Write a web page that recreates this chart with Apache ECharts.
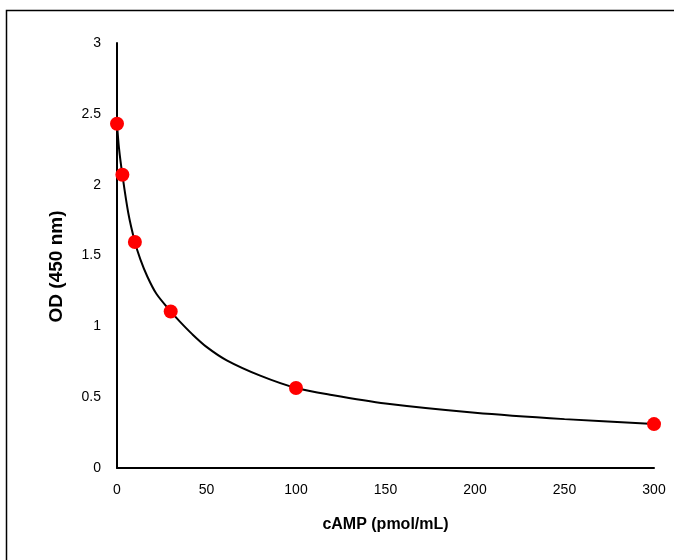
<!DOCTYPE html>
<html>
<head>
<meta charset="utf-8">
<script src="https://cdn.jsdelivr.net/npm/echarts@6/dist/echarts.min.js"></script>
<style>html,body{margin:0;padding:0;background:#fff}#c{width:674px;height:560px}</style>
</head>
<body>
<div id="c"></div>
<script>
// measured standards
const camp = [0, 3, 10, 30, 100, 300];
const od = [2.43, 2.07, 1.595, 1.105, 0.565, 0.31];
// fitted curve
const curveX = [0, 1.1, 3, 6.3, 10, 13, 17, 22, 30, 35, 42, 50, 61.3, 80, 100, 120, 150, 200, 250, 300];
const curveY = [2.43, 2.26, 2.07, 1.80, 1.595, 1.475, 1.35, 1.23, 1.105, 1.035, 0.945, 0.855, 0.76, 0.652, 0.565, 0.515, 0.455, 0.39, 0.345, 0.31];
const xTicks = [0, 50, 100, 150, 200, 250, 300];
const yTicks = [0, 0.5, 1, 1.5, 2, 2.5, 3];
const xName = 'cAMP (pmol/mL)';
const yName = 'OD (450 nm)';

const pts = camp.map((x, i) => [x, od[i]]);
const curve = curveX.map((x, i) => [x, curveY[i]]);
const chart = echarts.init(document.getElementById('c'));
chart.setOption({
  animation: false,
  graphic: [{
    type: 'rect', shape: { x: 6.5, y: 10.5, width: 700, height: 600 },
    style: { fill: null, stroke: '#000', lineWidth: 1.5 }, silent: true
  }],
  grid: { left: 117, top: 43, right: 20, bottom: 92 },
  xAxis: {
    type: 'value', min: xTicks[0], max: xTicks[xTicks.length - 1], interval: xTicks[1] - xTicks[0],
    name: xName, nameLocation: 'middle', nameGap: 49,
    nameTextStyle: { fontFamily: 'Liberation Sans', fontSize: 16, fontWeight: 'bold', color: '#000' },
    axisLine: { show: true, lineStyle: { color: '#000', width: 2 } },
    axisTick: { show: false },
    splitLine: { show: false },
    axisLabel: { fontFamily: 'Liberation Sans', fontSize: 14, color: '#000', margin: 15 }
  },
  yAxis: {
    type: 'value', min: yTicks[0], max: yTicks[yTicks.length - 1], interval: yTicks[1] - yTicks[0],
    name: yName, nameLocation: 'middle', nameGap: 51, nameRotate: 90,
    nameTextStyle: { fontFamily: 'Liberation Sans', fontSize: 19, fontWeight: 'bold', color: '#000', padding: [0, 22, 0, 0] },
    axisLine: { show: true, lineStyle: { color: '#000', width: 2 } },
    axisTick: { show: false },
    splitLine: { show: false },
    axisLabel: { fontFamily: 'Liberation Sans', fontSize: 14, color: '#000', margin: 16 }
  },
  series: [{
    type: 'line', data: curve, smooth: 0.3,
    showSymbol: false, lineStyle: { color: '#000', width: 2 }, z: 2
  }, {
    type: 'scatter', data: pts, symbolSize: 14,
    itemStyle: { color: '#ff0000', opacity: 1 }, z: 3
  }]
});
</script>
</body>
</html>
